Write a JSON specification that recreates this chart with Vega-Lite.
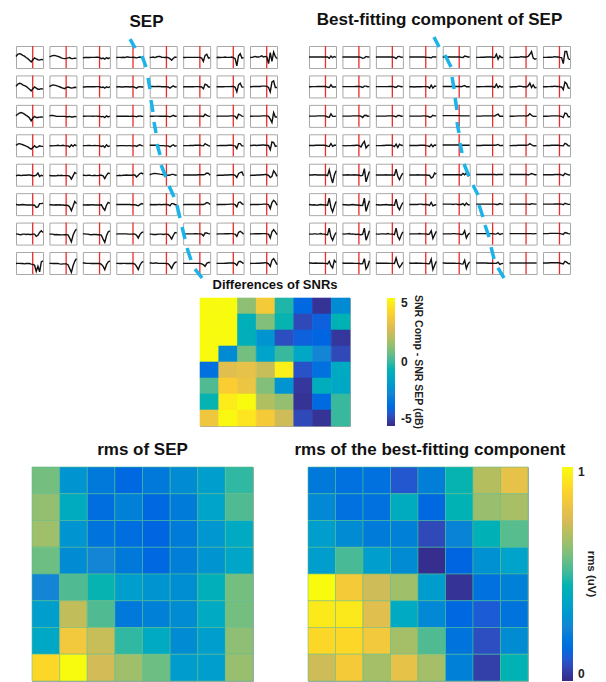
{"$schema":"https://vega.github.io/schema/vega-lite/v6.json","padding":{"left":12,"top":10,"right":0,"bottom":0},"background":"white","config":{"view":{"stroke":"#a9a9a9","strokeWidth":1},"title":{"font":"Liberation Sans","fontWeight":"bold","color":"#111111"}},"resolve":{"scale":{"color":"independent"}},"spacing":9,"vconcat":[{"spacing":-3,"resolve":{"scale":{"color":"independent"}},"vconcat":[{"spacing":24,"hconcat":[{"title":{"text":"SEP","fontSize":17,"offset":6,"anchor":"middle"},"bounds":"flush","transform":[{"flatten":["v"]},{"window":[{"op":"row_number","as":"i"}],"groupby":["r","c","d"]}],"data":{"values":[
{"r":0,"c":0,"v":[5,25,30,25,15,8,-5,-15,-30,-45,-25,-8,-18,-25,-28,-22,-25]},{"r":0,"c":1,"v":[0,8,12,15,10,5,0,-8,-12,-15,-12,-8,-5,-15,-15,-10,-12]},{"r":0,"c":2,"v":[-8,-5,-5,-5,-5,-3,-3,-3,-2,-2,-5,-15,-10,-20,-5,-15,-5]},{"r":0,"c":3,"v":[-5,-3,-3,-5,-3,-5,0,0,-3,-3,-2,-5,-8,-3,0,-5,-5]},{"r":0,"c":4,"v":[-5,-3,0,-5,0,5,5,-2,-3,-5,-2,-5,-15,-30,-12,0,-3]},{"r":0,"c":5,"v":[-5,-5,-3,-3,-3,-3,-3,-3,-3,-3,-3,-10,-40,15,25,-10,-5]},{"r":0,"c":6,"v":[-5,-3,-5,-3,-3,0,-3,-3,-3,0,-5,-15,-80,10,30,-10,-5]},{"r":0,"c":7,"v":[-5,-3,0,5,0,0,3,10,0,5,0,-60,40,-40,45,5,-15]},
{"r":1,"c":0,"v":[0,20,28,25,15,8,0,-12,-25,-40,-20,-5,-15,-25,-25,-20,-25]},{"r":1,"c":1,"v":[-2,8,14,12,8,2,-3,-10,-15,-20,-10,-5,-10,-15,-12,-8,-10]},{"r":1,"c":2,"v":[-5,-5,-3,-3,-3,-2,-3,-3,-2,-2,-3,-10,-5,-15,-3,-10,-3]},{"r":1,"c":3,"v":[-5,-3,-3,-5,-5,-3,-3,-3,-5,-3,-3,-8,-15,-5,-2,-5,-5]},{"r":1,"c":4,"v":[0,0,0,-2,0,0,0,-3,-3,-3,-3,-5,-15,-3,5,-5,-3]},{"r":1,"c":5,"v":[-5,-3,-3,-3,-3,-3,-3,-2,-2,-2,-3,-5,-20,20,15,-5,-5]},{"r":1,"c":6,"v":[-3,-2,-3,-3,-3,-2,-2,-2,-2,0,0,-8,-50,15,30,-5,-8]},{"r":1,"c":7,"v":[-3,-3,0,0,0,0,0,3,3,3,0,-10,-50,40,50,-10,-10]},
{"r":2,"c":0,"v":[0,15,25,30,25,15,5,-5,-20,-45,-20,-5,-15,-15,-12,-10,-12]},{"r":2,"c":1,"v":[0,3,3,0,-3,-5,-5,-5,-5,-5,-8,-8,-5,-10,-10,-5,-8]},{"r":2,"c":2,"v":[-3,-3,-2,-2,-2,-2,-3,-2,-2,-3,-5,-8,-5,-15,0,-10,-3]},{"r":2,"c":3,"v":[-3,-3,-3,-3,-2,-3,-3,-3,-5,-3,-3,-5,-8,-3,0,-3,-5]},{"r":2,"c":4,"v":[-3,-3,-3,-2,-2,-2,-3,-3,-3,-3,-3,-5,-8,-3,5,-3,-3]},{"r":2,"c":5,"v":[-3,-3,-3,-2,-2,-2,-2,-2,-2,-2,-2,-3,-5,15,5,-3,-5]},{"r":2,"c":6,"v":[-3,-2,-2,-2,-2,-2,-2,-2,0,0,0,-5,-25,15,10,-3,-5]},{"r":2,"c":7,"v":[-3,-3,-2,-2,-2,-2,-2,0,0,0,0,-5,-30,-60,30,-10,-10]},
{"r":3,"c":0,"v":[0,10,15,10,5,0,-8,-15,-25,-35,-20,-5,-20,-15,-5,-10,-10]},{"r":3,"c":1,"v":[-5,-3,-5,-3,-3,0,-3,-3,0,-3,-5,-5,-15,5,-10,5,-5]},{"r":3,"c":2,"v":[-3,-3,-3,-2,-2,-3,-3,-2,-3,-3,-5,-10,-5,-20,5,-10,-5]},{"r":3,"c":3,"v":[-3,-5,-3,-3,-3,-3,-5,-3,-3,-5,-5,-3,-10,0,5,-3,-5]},{"r":3,"c":4,"v":[0,0,0,0,0,0,-3,-3,-3,-5,-5,-5,-15,-3,5,-8,-3]},{"r":3,"c":5,"v":[-3,-3,-3,-3,-2,-2,-2,0,0,0,0,-3,-5,15,5,-3,-8]},{"r":3,"c":6,"v":[-3,-3,-2,-2,-2,-2,-2,0,0,0,-3,-5,-30,15,15,-5,-5]},{"r":3,"c":7,"v":[-2,-2,0,0,-2,0,0,2,2,0,0,-3,-40,30,25,-10,-5]},
{"r":4,"c":0,"v":[-10,-5,-5,-8,-5,-5,-5,-3,-3,-5,-10,-10,-5,15,-15,-5,-10]},{"r":4,"c":1,"v":[-5,-10,-10,-8,-10,-5,-8,-5,-8,-8,-8,-8,-15,-40,-10,20,10]},{"r":4,"c":2,"v":[-5,-5,-8,-5,-5,-8,-8,-5,-8,-8,-5,-5,-10,-35,-5,15,10]},{"r":4,"c":3,"v":[-8,-8,-5,-8,-5,-5,-3,-5,-5,-5,-3,-3,-20,-5,10,15,5]},{"r":4,"c":4,"v":[0,5,10,12,10,8,5,3,0,0,-5,-5,-3,3,3,-3,-5]},{"r":4,"c":5,"v":[-3,-3,-3,-3,-2,-2,-2,-2,-2,0,0,0,0,3,15,12,-5]},{"r":4,"c":6,"v":[-8,-5,-5,-5,-5,-3,-3,-3,0,0,0,-5,-25,10,20,25,-10]},{"r":4,"c":7,"v":[-8,-5,-5,-5,-3,-3,-3,0,0,3,0,-5,-25,-15,35,15,-15]},
{"r":5,"c":0,"v":[-3,-5,-8,-5,-3,-5,-8,-8,-8,-8,-8,-10,-30,-25,5,5,10]},{"r":5,"c":1,"v":[-5,-5,-8,-8,-5,-8,-5,-8,-8,-10,-10,-12,-25,-60,-20,25,5]},{"r":5,"c":2,"v":[-5,-8,-8,-5,-8,-5,-5,-8,-8,-8,-8,-5,-35,-55,-10,15,8]},{"r":5,"c":3,"v":[-3,-3,-3,-3,-2,-3,-3,-3,-3,-5,-5,-5,-10,-15,-5,5,0]},{"r":5,"c":4,"v":[-5,-3,-5,-3,-5,-3,-3,-5,-3,-3,-3,-5,-15,5,5,-5,-5]},{"r":5,"c":5,"v":[-5,-3,-3,-3,-3,-3,-3,-3,-3,-3,-3,-3,-3,3,15,10,-3]},{"r":5,"c":6,"v":[-5,-3,-3,-3,-3,-3,-2,-2,0,0,0,-5,-25,15,20,5,-5]},{"r":5,"c":7,"v":[-5,-3,-3,-3,-3,-3,-2,-2,0,0,0,-5,-40,15,35,20,-10]},
{"r":6,"c":0,"v":[-3,-5,-8,-10,-5,-5,-8,-5,-8,-8,-5,-5,-25,-15,10,25,10]},{"r":6,"c":1,"v":[-5,-5,-5,-10,-8,-10,-10,-12,-12,-10,-10,-12,-40,-75,-15,20,40]},{"r":6,"c":2,"v":[-3,-3,-5,-5,-8,-10,-8,-8,-8,-10,-10,-15,-50,-80,-20,15,25]},{"r":6,"c":3,"v":[-5,-3,-3,-3,-3,-3,-3,-5,-5,-5,-3,-5,-15,-40,-10,10,15]},{"r":6,"c":4,"v":[-5,-5,-8,-8,-8,-5,-5,-5,-8,-5,-5,-8,-25,-50,-15,10,5]},{"r":6,"c":5,"v":[-3,-3,-3,-3,-3,-3,-3,-2,-2,-3,-3,-5,-20,5,5,0,-3]},{"r":6,"c":6,"v":[-5,-3,-3,-3,-3,-2,-2,-2,0,0,-3,-5,-25,10,20,10,-5]},{"r":6,"c":7,"v":[-5,-3,-3,-2,-2,-2,-2,0,0,0,-3,-5,-40,15,35,15,-10]},
{"r":7,"c":0,"v":[-5,-3,-3,-5,-5,-8,-5,-3,-5,-10,-12,-20,-75,-30,-80,10,20]},{"r":7,"c":1,"v":[-3,-3,-5,-5,-5,-3,-8,-10,-8,-8,-8,-15,-50,-85,-25,15,40]},{"r":7,"c":2,"v":[0,0,-3,-3,-3,-5,-5,-5,-5,-5,-5,-12,-30,-60,-15,10,20]},{"r":7,"c":3,"v":[-3,-3,-5,-5,-3,-3,-5,-3,-5,-5,-5,-10,-30,-60,-20,5,15]},{"r":7,"c":4,"v":[0,0,-3,0,0,-3,-3,-3,-3,-3,-5,-8,-25,-50,-15,5,10]},{"r":7,"c":5,"v":[-3,-3,-3,-3,-3,-3,-3,-3,-3,-3,-3,-8,-15,-30,-3,5,5]},{"r":7,"c":6,"v":[-3,-3,-3,-3,-3,-2,-2,0,0,0,0,-5,-20,10,15,5,-5]},{"r":7,"c":7,"v":[-5,-3,-3,-3,-2,-2,-2,0,0,3,0,-8,-30,25,40,15,-15]},
{"r":7,"c":7,"d":1,"v":[0],"x":-70.1,"x2":-67.1,"y":2036,"y2":1954},{"r":7,"c":7,"d":2,"v":[0],"x":-63,"x2":-60.6,"y":1882,"y2":1782},{"r":7,"c":7,"d":3,"v":[0],"x":-59.4,"x2":-58.3,"y":1682,"y2":1582},{"r":7,"c":7,"d":4,"v":[0],"x":-57.7,"x2":-56.5,"y":1482,"y2":1373},{"r":7,"c":7,"d":5,"v":[0],"x":-55.9,"x2":-54.7,"y":1282,"y2":1182},{"r":7,"c":7,"d":6,"v":[0],"x":-54.1,"x2":-52.3,"y":1082,"y2":982},{"r":7,"c":7,"d":7,"v":[0],"x":-51.7,"x2":-48.8,"y":891,"y2":782},{"r":7,"c":7,"d":8,"v":[0],"x":-47,"x2":-44,"y":700,"y2":600},{"r":7,"c":7,"d":9,"v":[0],"x":-42.3,"x2":-40.5,"y":527,"y2":409},{"r":7,"c":7,"d":10,"v":[0],"x":-39.3,"x2":-37.5,"y":327,"y2":218},{"r":7,"c":7,"d":11,"v":[0],"x":-36.3,"x2":-34,"y":136,"y2":27},{"r":7,"c":7,"d":12,"v":[0],"x":-31.6,"x2":-27.4,"y":-55,"y2":-136}
]},"facet":{"row":{"field":"r","type":"ordinal","header":null},"column":{"field":"c","type":"ordinal","header":null}},"spacing":{"row":7.43,"column":6.43},"spec":{"width":27,"height":22,"layer":[{"transform":[{"filter":"datum.i==1&&!datum.d"}],"mark":{"type":"rule","color":"#ee2a2a","strokeWidth":1.3},"encoding":{"x":{"datum":10.9,"type":"quantitative","scale":{"domain":[1,17],"nice":false,"zero":false},"axis":null}}},{"transform":[{"filter":"!datum.d"}],"mark":{"type":"line","color":"#111111","strokeWidth":1.4},"encoding":{"x":{"field":"i","type":"quantitative","scale":{"domain":[1,17],"nice":false,"zero":false},"axis":null},"y":{"field":"v","type":"quantitative","scale":{"domain":[-100,100],"nice":false,"zero":false},"axis":null}}},{"transform":[{"filter":"datum.d>0"}],"mark":{"type":"rule","color":"#1cb3e8","strokeWidth":3.5},"encoding":{"x":{"field":"x","type":"quantitative","scale":{"domain":[1,17],"nice":false,"zero":false},"axis":null},"x2":{"field":"x2"},"y":{"field":"y","type":"quantitative","scale":{"domain":[-100,100],"nice":false,"zero":false},"axis":null},"y2":{"field":"y2"}}}]}},
{"title":{"text":"Best-fitting component of SEP","fontSize":17,"offset":6,"anchor":"middle"},"bounds":"flush","transform":[{"flatten":["v"]},{"window":[{"op":"row_number","as":"i"}],"groupby":["r","c","d"]}],"data":{"values":[
{"r":0,"c":0,"v":[0,0,0,0,0,0,0,0,0,0,0,0,-12,8,-5,5,-3]},{"r":0,"c":1,"v":[0,0,0,0,0,0,0,0,0,0,0,-3,-12,-8,5,0,0]},{"r":0,"c":2,"v":[0,0,0,0,0,0,0,0,0,0,0,-3,-15,3,5,-3,0]},{"r":0,"c":3,"v":[0,0,0,0,0,0,0,0,0,0,-3,-3,-5,-8,3,0,0]},{"r":0,"c":4,"v":[0,0,0,0,0,0,0,0,0,0,0,-3,-5,8,5,0,0]},{"r":0,"c":5,"v":[-3,-3,-3,-2,-2,-2,0,0,0,0,-3,-5,25,-20,10,-5,-5]},{"r":0,"c":6,"v":[-3,-3,-3,-2,-2,-2,0,3,0,0,0,5,25,50,-10,-20,-15]},{"r":0,"c":7,"v":[-3,-3,-3,-2,-2,-2,0,3,0,0,-3,-5,-60,50,50,-15,-25]},
{"r":1,"c":0,"v":[-3,-3,-2,-2,-2,0,0,0,0,0,0,-8,-10,15,-5,-5,-3]},{"r":1,"c":1,"v":[-2,-2,-2,-2,-2,-2,-2,-2,0,0,0,-3,-10,3,3,-3,-2]},{"r":1,"c":2,"v":[-2,-2,-2,-2,-2,-2,-2,-2,0,0,0,-5,-10,5,3,-3,-2]},{"r":1,"c":3,"v":[-3,-3,-3,-5,-3,-3,-3,-3,-2,-2,-2,-3,-15,12,-15,3,0]},{"r":1,"c":4,"v":[0,0,0,0,0,0,0,0,0,0,0,-3,3,8,-3,-3,-3]},{"r":1,"c":5,"v":[-3,-3,-3,-2,-2,-2,0,0,0,0,-3,-8,20,-10,5,-5,-3]},{"r":1,"c":6,"v":[-3,-5,-3,-3,-3,0,3,0,-3,-3,-5,5,30,-10,15,-12,-10]},{"r":1,"c":7,"v":[-3,-3,-3,-2,-2,0,0,3,0,0,-3,-5,-30,40,25,-15,-15]},
{"r":2,"c":0,"v":[-2,-2,-2,-2,-2,0,0,0,0,0,-2,-10,-12,18,-5,-5,-2]},{"r":2,"c":1,"v":[-2,-2,-2,-2,-2,-2,0,0,0,0,0,-3,-15,3,5,-3,-2]},{"r":2,"c":2,"v":[-2,-2,-2,-2,-2,-2,-2,0,0,0,0,-3,-10,3,3,-3,-2]},{"r":2,"c":3,"v":[-2,-2,-2,-2,-2,-2,-2,-2,0,0,-2,-3,-12,-8,5,0,0]},{"r":2,"c":4,"v":[2,2,2,2,2,2,2,2,2,2,2,0,0,0,0,0,0]},{"r":2,"c":5,"v":[-2,-2,-2,-2,0,0,0,0,0,0,0,-2,8,15,-3,-3,-3]},{"r":2,"c":6,"v":[-3,-3,-3,-2,-2,0,0,0,0,0,-2,3,20,5,-5,-5,-5]},{"r":2,"c":7,"v":[-3,-3,-3,-2,-2,0,0,0,0,0,-2,-5,-15,25,20,-8,-8]},
{"r":3,"c":0,"v":[-2,-2,-2,-2,0,0,0,0,0,0,-2,-8,-10,15,-10,0,0]},{"r":3,"c":1,"v":[-3,-3,-5,-3,-3,-3,-2,-2,0,0,-3,-15,15,35,-25,-5,5]},{"r":3,"c":2,"v":[-3,-3,-3,-3,-2,-2,0,0,0,0,-3,-12,10,-20,10,0,-2]},{"r":3,"c":3,"v":[-2,-2,-2,-2,-2,-2,0,0,0,0,-3,-5,-12,8,-12,3,0]},{"r":3,"c":4,"v":[2,2,2,2,2,2,2,2,2,2,2,0,0,0,0,0,0]},{"r":3,"c":5,"v":[-2,-2,-2,-2,0,0,0,0,0,0,0,0,3,8,-3,-2,-2]},{"r":3,"c":6,"v":[-3,-3,-2,-2,-2,0,0,0,0,0,0,3,15,5,-5,-3,-5]},{"r":3,"c":7,"v":[-3,-3,-2,-2,-2,0,0,0,0,0,-2,-3,-5,18,10,-5,-5]},
{"r":4,"c":0,"v":[-3,-3,-3,0,0,-3,-3,-3,-3,-3,-3,-8,45,-20,-75,-5,35]},{"r":4,"c":1,"v":[-3,-3,-3,0,-3,-3,-3,0,-3,-3,-5,-10,-5,55,-65,-15,30]},{"r":4,"c":2,"v":[-3,-3,-3,-3,-3,-3,0,-3,-3,-3,-3,-5,50,-15,-45,-10,15]},{"r":4,"c":3,"v":[-3,-3,-3,-3,-3,0,-3,-3,-3,-3,-3,-5,-5,-30,-20,15,5]},{"r":4,"c":4,"v":[0,0,0,0,0,0,0,0,0,0,0,-5,12,0,15,-10,-3]},{"r":4,"c":5,"v":[2,2,2,2,2,2,2,2,2,2,2,2,0,2,3,2,2]},{"r":4,"c":6,"v":[2,2,2,2,2,2,2,2,2,2,3,-2,3,10,5,0,0]},{"r":4,"c":7,"v":[0,0,0,0,0,0,0,2,2,2,2,-2,-8,12,5,0,-3]},
{"r":5,"c":0,"v":[-3,-5,-8,-5,-8,-10,-5,-3,-5,-8,-8,-10,55,-30,-70,-20,25]},{"r":5,"c":1,"v":[-3,-5,-5,-8,-8,-5,-3,-5,-8,-8,-10,-12,-10,55,-65,-15,30]},{"r":5,"c":2,"v":[-5,-5,-8,-8,-5,-5,-3,-5,-8,-5,-8,-10,45,-25,-50,-15,15]},{"r":5,"c":3,"v":[-3,-3,-3,-3,-3,-3,0,0,-3,-3,-3,-5,-12,15,-15,-8,-5]},{"r":5,"c":4,"v":[0,0,0,0,0,0,-3,0,0,-3,-3,-3,5,-12,10,-5,-5]},{"r":5,"c":5,"v":[0,0,0,0,0,0,0,0,0,0,0,0,-3,-3,5,0,0]},{"r":5,"c":6,"v":[0,0,0,0,0,0,0,0,0,0,0,0,-3,5,3,0,0]},{"r":5,"c":7,"v":[0,0,0,0,0,0,0,2,2,2,2,0,-5,8,3,-2,-2]},
{"r":6,"c":0,"v":[-3,-5,-5,-3,-3,-5,-3,0,-5,-5,-8,-10,50,-30,-60,-20,10]},{"r":6,"c":1,"v":[-3,-5,-3,-3,0,-5,-3,-5,-8,-5,-8,-10,-5,50,-60,-20,25]},{"r":6,"c":2,"v":[-3,-5,-5,-3,-3,-3,-5,0,-3,-5,-5,-10,50,-25,-55,-15,15]},{"r":6,"c":3,"v":[-5,-3,-3,-3,-3,-3,0,-3,-3,-3,-3,-8,-3,25,-45,-10,20]},{"r":6,"c":4,"v":[-3,-3,-3,-3,-3,-3,0,0,-3,-3,-5,-8,-5,25,-40,-10,5]},{"r":6,"c":5,"v":[0,0,0,0,0,0,0,0,0,0,0,-5,-3,5,-8,-3,0]},{"r":6,"c":6,"v":[0,0,0,0,0,0,0,0,0,0,0,0,0,0,-3,0,0]},{"r":6,"c":7,"v":[0,0,0,0,2,2,2,2,2,2,0,-3,-8,10,5,0,-3]},
{"r":7,"c":0,"v":[0,0,-2,-2,0,-2,-2,-2,-2,-3,-3,-8,15,-25,-45,25,5]},{"r":7,"c":1,"v":[0,-2,-2,-2,-2,-2,-2,-3,-3,-3,-5,-8,-5,40,-55,-30,20]},{"r":7,"c":2,"v":[0,-2,-2,-2,-2,-2,-2,-2,-3,-3,-3,-5,45,-10,-40,-20,5]},{"r":7,"c":3,"v":[0,-2,-2,-2,0,-2,-2,-2,-3,-3,-3,-8,-5,35,-60,-20,15]},{"r":7,"c":4,"v":[0,0,-2,-2,-2,-2,-2,-2,-3,-3,-3,-8,-10,25,-50,-10,10]},{"r":7,"c":5,"v":[0,0,0,0,0,0,0,-2,-2,-2,-2,-3,-3,8,-12,-5,-3]},{"r":7,"c":6,"v":[0,0,0,0,0,0,0,0,0,0,0,0,0,0,0,0,0]},{"r":7,"c":7,"v":[0,0,0,0,2,2,2,2,2,2,0,-5,-8,15,8,-5,-8]},
{"r":7,"c":7,"d":1,"v":[0],"x":-63.6,"x2":-60.6,"y":2055,"y2":1964},{"r":7,"c":7,"d":2,"v":[0],"x":-57.1,"x2":-53.5,"y":1891,"y2":1782},{"r":7,"c":7,"d":3,"v":[0],"x":-52.9,"x2":-51.7,"y":1691,"y2":1582},{"r":7,"c":7,"d":4,"v":[0],"x":-51.1,"x2":-50,"y":1500,"y2":1391},{"r":7,"c":7,"d":5,"v":[0],"x":-50,"x2":-48.8,"y":1282,"y2":1182},{"r":7,"c":7,"d":6,"v":[0],"x":-48.2,"x2":-47,"y":1091,"y2":1000},{"r":7,"c":7,"d":7,"v":[0],"x":-45.8,"x2":-42.9,"y":900,"y2":791},{"r":7,"c":7,"d":8,"v":[0],"x":-40.5,"x2":-37.5,"y":709,"y2":618},{"r":7,"c":7,"d":9,"v":[0],"x":-36.9,"x2":-34.6,"y":527,"y2":418},{"r":7,"c":7,"d":10,"v":[0],"x":-33.4,"x2":-31,"y":345,"y2":236},{"r":7,"c":7,"d":11,"v":[0],"x":-29.8,"x2":-28,"y":145,"y2":36},{"r":7,"c":7,"d":12,"v":[0],"x":-25.7,"x2":-22.1,"y":-45,"y2":-136}
]},"facet":{"row":{"field":"r","type":"ordinal","header":null},"column":{"field":"c","type":"ordinal","header":null}},"spacing":{"row":7.43,"column":6.43},"spec":{"width":27,"height":22,"layer":[{"transform":[{"filter":"datum.i==1&&!datum.d"}],"mark":{"type":"rule","color":"#ee2a2a","strokeWidth":1.3},"encoding":{"x":{"datum":10.76,"type":"quantitative","scale":{"domain":[1,17],"nice":false,"zero":false},"axis":null}}},{"transform":[{"filter":"!datum.d"}],"mark":{"type":"line","color":"#111111","strokeWidth":1.4},"encoding":{"x":{"field":"i","type":"quantitative","scale":{"domain":[1,17],"nice":false,"zero":false},"axis":null},"y":{"field":"v","type":"quantitative","scale":{"domain":[-100,100],"nice":false,"zero":false},"axis":null}}},{"transform":[{"filter":"datum.d>0"}],"mark":{"type":"rule","color":"#1cb3e8","strokeWidth":3.5},"encoding":{"x":{"field":"x","type":"quantitative","scale":{"domain":[1,17],"nice":false,"zero":false},"axis":null},"x2":{"field":"x2"},"y":{"field":"y","type":"quantitative","scale":{"domain":[-100,100],"nice":false,"zero":false},"axis":null},"y2":{"field":"y2"}}}]}}]},
{"spacing":0,"resolve":{"scale":{"color":"independent"},"legend":{"color":"independent"}},"hconcat":[{"width":182,"height":10,"view":{"stroke":"transparent"},"data":{"values":[]},"mark":"point","encoding":{}},
{"title":{"text":"Differences of SNRs","fontSize":13,"offset":6},"width":150,"height":128,"data":{"values":[
{"r":0,"c":0,"z":5},{"r":0,"c":1,"z":5},{"r":0,"c":2,"z":1.2},{"r":0,"c":3,"z":3.5},{"r":0,"c":4,"z":-0.3},{"r":0,"c":5,"z":-3.6},{"r":0,"c":6,"z":-4.8},{"r":0,"c":7,"z":-2.3},
{"r":1,"c":0,"z":5},{"r":1,"c":1,"z":5},{"r":1,"c":2,"z":-0.8},{"r":1,"c":3,"z":1},{"r":1,"c":4,"z":-0.5},{"r":1,"c":5,"z":-4.3},{"r":1,"c":6,"z":-3.8},{"r":1,"c":7,"z":-0.6},
{"r":2,"c":0,"z":5},{"r":2,"c":1,"z":5},{"r":2,"c":2,"z":-0.8},{"r":2,"c":3,"z":-2},{"r":2,"c":4,"z":-4.2},{"r":2,"c":5,"z":-3.8},{"r":2,"c":6,"z":-3.7},{"r":2,"c":7,"z":-4.7},
{"r":3,"c":0,"z":5},{"r":3,"c":1,"z":-2.3},{"r":3,"c":2,"z":0.8},{"r":3,"c":3,"z":-1.4},{"r":3,"c":4,"z":0},{"r":3,"c":5,"z":-1.2},{"r":3,"c":6,"z":-2.5},{"r":3,"c":7,"z":-4.3},
{"r":4,"c":0,"z":-3.3},{"r":4,"c":1,"z":2.8},{"r":4,"c":2,"z":3},{"r":4,"c":3,"z":2.2},{"r":4,"c":4,"z":4.7},{"r":4,"c":5,"z":-4.1},{"r":4,"c":6,"z":-3.3},{"r":4,"c":7,"z":-1.1},
{"r":5,"c":0,"z":0.3},{"r":5,"c":1,"z":3.7},{"r":5,"c":2,"z":3.2},{"r":5,"c":3,"z":1},{"r":5,"c":4,"z":-2},{"r":5,"c":5,"z":-4.7},{"r":5,"c":6,"z":-0.9},{"r":5,"c":7,"z":-1.2},
{"r":6,"c":0,"z":-0.5},{"r":6,"c":1,"z":4.6},{"r":6,"c":2,"z":5},{"r":6,"c":3,"z":1.8},{"r":6,"c":4,"z":1.3},{"r":6,"c":5,"z":-4.8},{"r":6,"c":6,"z":-3.5},{"r":6,"c":7,"z":0},
{"r":7,"c":0,"z":3.3},{"r":7,"c":1,"z":4.9},{"r":7,"c":2,"z":4.4},{"r":7,"c":3,"z":3.5},{"r":7,"c":4,"z":2.3},{"r":7,"c":5,"z":-4.3},{"r":7,"c":6,"z":-4.8},{"r":7,"c":7,"z":0}
]},"mark":{"type":"rect","strokeWidth":0.6},"encoding":{"x":{"field":"c","type":"ordinal","axis":null},"y":{"field":"r","type":"ordinal","axis":null},"stroke":{"field":"z","type":"quantitative","scale":{"domain":[-5,5],"range":["#352a87","#0363e1","#1485d4","#06a7c6","#38b99e","#92bf73","#d9ba56","#fcce2e","#f9fb0e"]},"legend":null},"color":{"field":"z","type":"quantitative","scale":{"domain":[-5,5],"range":["#352a87","#0363e1","#1485d4","#06a7c6","#38b99e","#92bf73","#d9ba56","#fcce2e","#f9fb0e"]},"legend":{"orient":"none","legendX":187,"legendY":0,"direction":"vertical","gradientLength":128,"gradientThickness":8,"values":[-5,0,5],"labelExpr":"''+datum.value","labelOffset":6,"title":"SNR Comp - SNR SEP (dB)","titleOrient":"right","titleAnchor":"middle","titlePadding":1,"titleFont":"Liberation Sans","titleFontSize":10.5,"titleFontWeight":"bold","titleColor":"#222222","labelFont":"Liberation Sans","labelFontSize":12,"labelFontWeight":"bold","labelColor":"#222222","encoding":{"title":{"update":{"angle":{"value":-90},"baseline":{"value":"bottom"}}}}}}}}]}
]},
{"spacing":0,"hconcat":[{"width":14,"height":10,"view":{"stroke":"transparent"},"data":{"values":[]},"mark":"point","encoding":{}},{"spacing":39,"resolve":{"scale":{"color":"independent"}},"hconcat":[
{"title":{"text":"rms of SEP","fontSize":17,"offset":8},"width":221,"height":214,"data":{"values":[
{"r":0,"c":0,"z":0.58},{"r":0,"c":1,"z":0.3},{"r":0,"c":2,"z":0.2},{"r":0,"c":3,"z":0.14},{"r":0,"c":4,"z":0.2},{"r":0,"c":5,"z":0.27},{"r":0,"c":6,"z":0.34},{"r":0,"c":7,"z":0.49},
{"r":1,"c":0,"z":0.63},{"r":1,"c":1,"z":0.4},{"r":1,"c":2,"z":0.16},{"r":1,"c":3,"z":0.23},{"r":1,"c":4,"z":0.14},{"r":1,"c":5,"z":0.21},{"r":1,"c":6,"z":0.36},{"r":1,"c":7,"z":0.53},
{"r":2,"c":0,"z":0.65},{"r":2,"c":1,"z":0.3},{"r":2,"c":2,"z":0.18},{"r":2,"c":3,"z":0.16},{"r":2,"c":4,"z":0.13},{"r":2,"c":5,"z":0.21},{"r":2,"c":6,"z":0.31},{"r":2,"c":7,"z":0.39},
{"r":3,"c":0,"z":0.57},{"r":3,"c":1,"z":0.27},{"r":3,"c":2,"z":0.25},{"r":3,"c":3,"z":0.2},{"r":3,"c":4,"z":0.14},{"r":3,"c":5,"z":0.22},{"r":3,"c":6,"z":0.3},{"r":3,"c":7,"z":0.37},
{"r":4,"c":0,"z":0.25},{"r":4,"c":1,"z":0.53},{"r":4,"c":2,"z":0.45},{"r":4,"c":3,"z":0.34},{"r":4,"c":4,"z":0.3},{"r":4,"c":5,"z":0.28},{"r":4,"c":6,"z":0.42},{"r":4,"c":7,"z":0.58},
{"r":5,"c":0,"z":0.34},{"r":5,"c":1,"z":0.71},{"r":5,"c":2,"z":0.53},{"r":5,"c":3,"z":0.2},{"r":5,"c":4,"z":0.23},{"r":5,"c":5,"z":0.27},{"r":5,"c":6,"z":0.39},{"r":5,"c":7,"z":0.58},
{"r":6,"c":0,"z":0.38},{"r":6,"c":1,"z":0.84},{"r":6,"c":2,"z":0.72},{"r":6,"c":3,"z":0.49},{"r":6,"c":4,"z":0.39},{"r":6,"c":5,"z":0.27},{"r":6,"c":6,"z":0.34},{"r":6,"c":7,"z":0.62},
{"r":7,"c":0,"z":0.9},{"r":7,"c":1,"z":1},{"r":7,"c":2,"z":0.74},{"r":7,"c":3,"z":0.65},{"r":7,"c":4,"z":0.57},{"r":7,"c":5,"z":0.33},{"r":7,"c":6,"z":0.34},{"r":7,"c":7,"z":0.64}
]},"mark":{"type":"rect","strokeWidth":0.6},"encoding":{"x":{"field":"c","type":"ordinal","axis":null},"y":{"field":"r","type":"ordinal","axis":null},"stroke":{"field":"z","type":"quantitative","scale":{"domain":[0,1],"range":["#352a87","#0363e1","#1485d4","#06a7c6","#38b99e","#92bf73","#d9ba56","#fcce2e","#f9fb0e"]},"legend":null},"color":{"field":"z","type":"quantitative","scale":{"domain":[0,1],"range":["#352a87","#0363e1","#1485d4","#06a7c6","#38b99e","#92bf73","#d9ba56","#fcce2e","#f9fb0e"]},"legend":null}}},
{"title":{"text":"rms of the best-fitting component","fontSize":17,"offset":8,"dx":12},"width":220,"height":214,"data":{"values":[
{"r":0,"c":0,"z":0.2},{"r":0,"c":1,"z":0.17},{"r":0,"c":2,"z":0.17},{"r":0,"c":3,"z":0.1},{"r":0,"c":4,"z":0.22},{"r":0,"c":5,"z":0.45},{"r":0,"c":6,"z":0.69},{"r":0,"c":7,"z":0.8},
{"r":1,"c":0,"z":0.26},{"r":1,"c":1,"z":0.17},{"r":1,"c":2,"z":0.17},{"r":1,"c":3,"z":0.4},{"r":1,"c":4,"z":0.14},{"r":1,"c":5,"z":0.44},{"r":1,"c":6,"z":0.64},{"r":1,"c":7,"z":0.67},
{"r":2,"c":0,"z":0.34},{"r":2,"c":1,"z":0.27},{"r":2,"c":2,"z":0.21},{"r":2,"c":3,"z":0.23},{"r":2,"c":4,"z":0.07},{"r":2,"c":5,"z":0.24},{"r":2,"c":6,"z":0.43},{"r":2,"c":7,"z":0.54},
{"r":3,"c":0,"z":0.34},{"r":3,"c":1,"z":0.52},{"r":3,"c":2,"z":0.34},{"r":3,"c":3,"z":0.27},{"r":3,"c":4,"z":0.01},{"r":3,"c":5,"z":0.13},{"r":3,"c":6,"z":0.29},{"r":3,"c":7,"z":0.36},
{"r":4,"c":0,"z":1},{"r":4,"c":1,"z":0.85},{"r":4,"c":2,"z":0.73},{"r":4,"c":3,"z":0.65},{"r":4,"c":4,"z":0.33},{"r":4,"c":5,"z":0.02},{"r":4,"c":6,"z":0.17},{"r":4,"c":7,"z":0.23},
{"r":5,"c":0,"z":0.95},{"r":5,"c":1,"z":0.95},{"r":5,"c":2,"z":0.78},{"r":5,"c":3,"z":0.39},{"r":5,"c":4,"z":0.26},{"r":5,"c":5,"z":0.14},{"r":5,"c":6,"z":0.11},{"r":5,"c":7,"z":0.18},
{"r":6,"c":0,"z":0.9},{"r":6,"c":1,"z":0.9},{"r":6,"c":2,"z":0.84},{"r":6,"c":3,"z":0.66},{"r":6,"c":4,"z":0.53},{"r":6,"c":5,"z":0.18},{"r":6,"c":6,"z":0.08},{"r":6,"c":7,"z":0.27},
{"r":7,"c":0,"z":0.73},{"r":7,"c":1,"z":0.85},{"r":7,"c":2,"z":0.66},{"r":7,"c":3,"z":0.8},{"r":7,"c":4,"z":0.66},{"r":7,"c":5,"z":0.23},{"r":7,"c":6,"z":0.05},{"r":7,"c":7,"z":0.44}
]},"mark":{"type":"rect","strokeWidth":0.6},"encoding":{"x":{"field":"c","type":"ordinal","axis":null},"y":{"field":"r","type":"ordinal","axis":null},"stroke":{"field":"z","type":"quantitative","scale":{"domain":[0,1],"range":["#352a87","#0363e1","#1485d4","#06a7c6","#38b99e","#92bf73","#d9ba56","#fcce2e","#f9fb0e"]},"legend":null},"color":{"field":"z","type":"quantitative","scale":{"domain":[0,1],"range":["#352a87","#0363e1","#1485d4","#06a7c6","#38b99e","#92bf73","#d9ba56","#fcce2e","#f9fb0e"]},"legend":{"orient":"none","legendX":254,"legendY":0,"direction":"vertical","gradientLength":214,"gradientThickness":11,"values":[0,1],"labelExpr":"''+datum.value","labelOffset":5,"title":"rms (uV)","titleOrient":"right","titleAnchor":"middle","titlePadding":1,"titleFont":"Liberation Sans","titleFontSize":11.5,"titleFontWeight":"bold","titleColor":"#222222","labelFont":"Liberation Sans","labelFontSize":12,"labelFontWeight":"bold","labelColor":"#222222","encoding":{"title":{"update":{"angle":{"value":-90},"baseline":{"value":"bottom"}}}}}}}}]}]}]}
